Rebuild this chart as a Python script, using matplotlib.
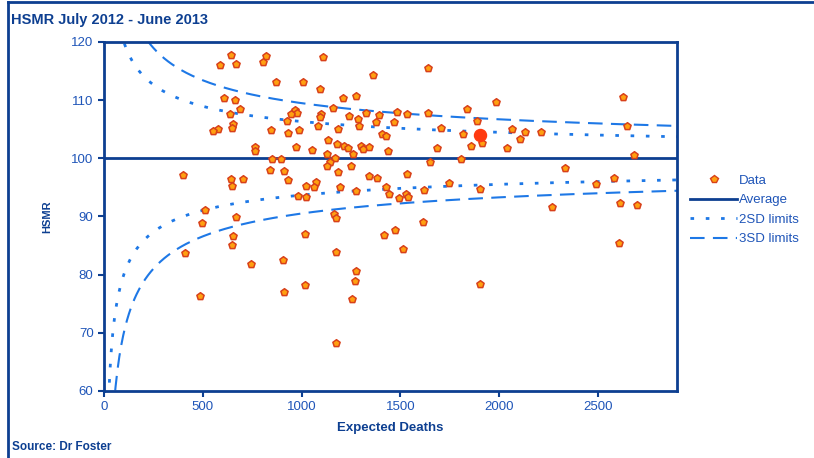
import numpy as np
import matplotlib.pyplot as plt
from matplotlib.lines import Line2D

plt.rcParams['font.family'] = 'Liberation Sans'

# expected deaths / HSMR
expected = [644, 820, 803, 586, 668, 870, 1006, 606, 661, 690, 636, 965, 978, 946, 925,
            651, 648, 578, 553, 844, 931, 987, 766, 766, 970, 850, 896, 840, 912, 930,
            400, 643, 703, 648, 982, 513, 666, 1110, 1640, 1361, 1092, 1210, 1274, 1984,
            1157, 1837, 1098, 1093, 1238, 1284, 1326, 1392, 1484, 1535, 1640, 1377, 1468,
            1886, 1085, 1184, 1292, 1707, 1405, 1426, 1815, 1915, 1135, 1178, 1215, 1236,
            1301, 1312, 1343, 1053, 1259, 1437, 1687, 1856, 1130, 1169, 1805, 1142, 1127,
            1650, 1250, 1183, 1343, 1380, 1533, 1073, 1021, 1061, 1196, 1426, 1744, 1621,
            1275, 1904, 1024, 1441, 1494, 1530, 1540, 1165, 1173, 2063, 2132, 2212, 2105,
            2041, 2625, 2648, 2684, 2335, 2581, 2488, 2610, 2697, 2269, 494, 653, 646, 408,
            744, 907, 1016, 1176, 1275, 1272, 1257, 1016, 911, 487, 1176, 1417, 1473, 1513,
            1614, 1904, 2606]
hsmr = [117.7, 117.6, 116.6, 116.0, 116.3, 113.2, 113.2, 110.3, 110.1, 108.4, 107.6, 108.3,
        107.8, 107.6, 106.4, 105.9, 105.3, 105.0, 104.7, 104.8, 104.4, 104.9, 101.9, 101.3,
        101.9, 99.9, 99.9, 98.0, 97.9, 96.2, 97.2, 96.4, 96.4, 95.2, 93.5, 91.2, 89.9, 117.4,
        115.6, 114.3, 111.9, 110.3, 110.7, 109.7, 108.7, 108.5, 107.7, 107.1, 107.2, 106.7,
        107.8, 107.5, 108.0, 107.6, 107.8, 106.2, 106.2, 106.4, 105.6, 105.1, 105.6, 105.3,
        104.1, 103.8, 104.1, 102.6, 103.2, 102.5, 102.2, 101.7, 102.1, 101.6, 102.0, 101.4,
        100.8, 101.3, 101.8, 102.1, 100.7, 100.1, 99.8, 99.4, 98.6, 99.3, 98.7, 97.7, 97.0,
        96.6, 97.3, 95.9, 95.2, 95.1, 95.1, 95.1, 95.7, 94.6, 94.4, 94.7, 93.3, 93.8, 93.1,
        93.8, 93.3, 90.5, 89.7, 105.0, 104.6, 104.6, 103.3, 101.7, 110.6, 105.6, 100.6, 98.3,
        96.7, 95.6, 92.4, 91.9, 91.7, 88.8, 86.6, 85.1, 83.8, 81.8, 82.6, 87.0, 83.9, 80.7,
        78.9, 75.8, 78.3, 77.1, 76.3, 68.3, 86.8, 87.7, 84.4, 89.1, 78.4, 85.4]
trust_expected = 1903
trust_hsmr = 104.0

average = 100
sd_levels = [2, 3]

navy = '#0d3f91'
blue = '#1e78e6'
txt = '#1f55b8'

fig = plt.figure(figsize=(8.14, 4.58), dpi=100)
ax = fig.add_axes([0.1278, 0.1463, 0.7039, 0.762])

# funnel limits
e = np.linspace(5, 2900, 600)
styles = {2: (0, (1.3, 4.2)), 3: (0, (7, 4))}
widths = {2: 2.0, 3: 1.5}
for z in sd_levels:
    for sgn in (1, -1):
        ax.plot(e, average + sgn * z * 100 / np.sqrt(e), color=blue,
                ls=styles[z], lw=widths[z], zorder=2)

ax.axhline(average, color=navy, lw=2, zorder=2)
ax.scatter(expected, hsmr, s=30, marker='p', facecolor='#ffa010',
           edgecolor='#d8401a', linewidth=1.1, zorder=3)
ax.scatter([trust_expected], [trust_hsmr], s=75, color='#ff3a10', zorder=4)

ax.set_xlim(0, 2900)
ax.set_ylim(60, 120)
ax.set_xticks([0, 500, 1000, 1500, 2000, 2500])
ax.set_yticks([60, 70, 80, 90, 100, 110, 120])
for s in ax.spines.values():
    s.set_color(navy)
    s.set_linewidth(2)
ax.tick_params(colors=navy, labelcolor=txt, labelsize=9.5, length=4, width=1.5)
ax.set_xlabel('Expected Deaths', fontsize=9.5, fontweight='bold', color=navy, labelpad=6)
ax.set_ylabel('HSMR', fontsize=8, fontweight='bold', color=navy, labelpad=14)

handles = [Line2D([], [], ls='none', marker='p', ms=5.5, mfc='#ffa010', mec='#d8401a'),
           Line2D([], [], color=navy, lw=2),
           Line2D([], [], color=blue, lw=2, ls=styles[2]),
           Line2D([], [], color=blue, lw=1.5, ls=styles[3])]
leg = fig.legend(handles, ['Data', 'Average', '2SD limits', '3SD limits'],
                 loc='upper left', bbox_to_anchor=(0.833, 0.645), frameon=False,
                 fontsize=9.5, handlelength=3.6, handletextpad=0.1, labelspacing=0.55)
for t in leg.get_texts():
    t.set_color(txt)

fig.text(0.013, 0.947, 'HSMR July 2012 - June 2013', fontsize=10.5,
         fontweight='bold', color=navy)
fig.text(0.015, 0.018, 'Source: Dr Foster', fontsize=8.5, fontweight='bold', color=navy)
fig.add_artist(Line2D([0.01, 0.01], [0, 0.996], color=navy, lw=2, transform=fig.transFigure))
fig.add_artist(Line2D([0.01, 1], [0.996, 0.996], color=navy, lw=2, transform=fig.transFigure))

fig.savefig('out.png', dpi=100)
